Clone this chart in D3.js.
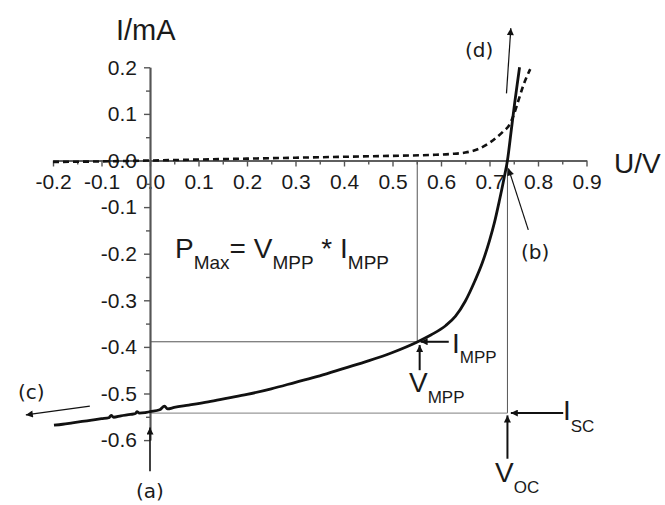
<!DOCTYPE html>
<html>
<head>
<meta charset="utf-8">
<script src="https://cdn.jsdelivr.net/npm/d3@7"></script>
<style>
  html, body { margin: 0; padding: 0; background: #fff; }
  svg { display: block; }
  text { font-family: "Liberation Sans", Arial, sans-serif; fill: #1a1a1a; }
</style>
</head>
<body>
<svg id="chart" width="665" height="505"></svg>
<script>
// ---- data ----
const xMajorTicks = [-0.2, -0.1, 0.0, 0.1, 0.2, 0.3, 0.4, 0.5, 0.6, 0.7, 0.8, 0.9];
const yMajorTicks = [0.2, 0.1, 0.0, -0.1, -0.2, -0.3, -0.4, -0.5, -0.6];
const xMinorTicks = [-0.15, -0.05, 0.05, 0.15, 0.25, 0.35, 0.45, 0.55, 0.65, 0.75, 0.85];
const yMinorTicks = [0.15, 0.05, -0.05, -0.15, -0.25, -0.35, -0.45, -0.55];

// illuminated curve (solid)
const lightU = [-0.198,-0.18,-0.16,-0.14,-0.12,-0.10,-0.085,-0.08,-0.075,-0.06,-0.04,-0.03,-0.027,-0.022,-0.01,0.0,0.02,0.03,0.036,0.05,0.08,0.12,0.16,0.2,0.25,0.3,0.35,0.4,0.45,0.5,0.55,0.58,0.61,0.63,0.65,0.67,0.685,0.70,0.71,0.72,0.73,0.737,0.745,0.752,0.758,0.762];
const lightI = [-0.568,-0.566,-0.563,-0.560,-0.557,-0.554,-0.552,-0.547,-0.551,-0.548,-0.545,-0.543,-0.539,-0.542,-0.541,-0.539,-0.535,-0.527,-0.533,-0.530,-0.525,-0.518,-0.510,-0.502,-0.490,-0.476,-0.462,-0.446,-0.430,-0.412,-0.390,-0.374,-0.354,-0.334,-0.302,-0.258,-0.220,-0.172,-0.134,-0.088,-0.038,0.0,0.066,0.124,0.170,0.200];

// dark curve (dashed)
const darkU = [-0.2,-0.1,0.0,0.1,0.2,0.3,0.4,0.5,0.58,0.62,0.65,0.68,0.70,0.715,0.728,0.74,0.75,0.76,0.77,0.784];
const darkI = [-0.003,-0.002,0.0,0.002,0.004,0.006,0.008,0.010,0.012,0.014,0.017,0.026,0.038,0.050,0.062,0.075,0.098,0.130,0.162,0.196];

// characteristic points
const VMPP = 0.551, IMPP = -0.389, VOC = 0.737, ISC = -0.542;

// ---- drawing ----
const svg = d3.select("#chart");
const x = d3.scaleLinear().domain([-0.2, 0.9]).range([53, 586.5]);
const y = d3.scaleLinear().domain([0.2, -0.6]).range([67.3, 440.1]);
const fmt = d => d.toFixed(1);

const defs = svg.append("defs");
defs.append("marker").attr("id", "ah").attr("viewBox", "0 0 10 10")
  .attr("refX", 10).attr("refY", 5).attr("markerUnits", "userSpaceOnUse")
  .attr("markerWidth", 9).attr("markerHeight", 7).attr("orient", "auto")
  .append("path").attr("d", "M0,0L10,5L0,10z").attr("fill", "#111");

// guide lines
const guide = svg.append("g").attr("fill", "none");
guide.append("line").attr("x1", x(VMPP)).attr("x2", x(VMPP)).attr("y1", y(0)).attr("y2", y(IMPP))
  .attr("stroke", "#555").attr("stroke-width", 1);
guide.append("line").attr("x1", x(0)).attr("x2", x(VMPP)).attr("y1", y(IMPP)).attr("y2", y(IMPP))
  .attr("stroke", "#555").attr("stroke-width", 1);
guide.append("line").attr("x1", x(VOC)).attr("x2", x(VOC)).attr("y1", y(0)).attr("y2", y(ISC))
  .attr("stroke", "#555").attr("stroke-width", 1);
guide.append("line").attr("x1", x(0)).attr("x2", x(VOC)).attr("y1", y(ISC)).attr("y2", y(ISC))
  .attr("stroke", "#999").attr("stroke-width", 1.3);

// axes
const axisColor = "#555";
const gx = svg.append("g").attr("transform", `translate(0,${y(0)})`);
gx.call(d3.axisBottom(x).tickValues(xMajorTicks).tickFormat(fmt).tickSize(6).tickSizeOuter(0).tickPadding(8));
const gxm = svg.append("g").attr("transform", `translate(0,${y(0)})`);
gxm.call(d3.axisBottom(x).tickValues(xMinorTicks).tickFormat("").tickSize(4).tickSizeOuter(0));
const gy = svg.append("g").attr("transform", `translate(${x(0)},0)`);
gy.call(d3.axisLeft(y).tickValues(yMajorTicks).tickFormat(fmt).tickSize(6).tickSizeOuter(0).tickPadding(7));
const gym = svg.append("g").attr("transform", `translate(${x(0)},0)`);
gym.call(d3.axisLeft(y).tickValues(yMinorTicks).tickFormat("").tickSize(4).tickSizeOuter(0));

[gx, gxm, gy, gym].forEach(g => {
  g.selectAll(".domain").attr("stroke", axisColor).attr("stroke-width", 1.7);
  g.selectAll(".tick line").attr("stroke", axisColor).attr("stroke-width", 1.4);
  g.selectAll("text").attr("font-size", 21).attr("fill", "#1a1a1a")
    .style("font-family", '"Liberation Sans", Arial, sans-serif');
});

// curves
const line = d3.line().x(d => x(d[0])).y(d => y(d[1])).curve(d3.curveMonotoneX);
svg.append("path").datum(darkU.map((u, i) => [u, darkI[i]]))
  .attr("d", line).attr("fill", "none").attr("stroke", "#111")
  .attr("stroke-width", 2.6).attr("stroke-dasharray", "6,4");
svg.append("path").datum(lightU.map((u, i) => [u, lightI[i]]))
  .attr("d", line).attr("fill", "none").attr("stroke", "#111")
  .attr("stroke-width", 2.8).attr("stroke-linejoin", "round");

// annotation arrows
function arrow(u1, v1, u2, v2, w) {
  svg.append("line").attr("x1", x(u1)).attr("y1", y(v1)).attr("x2", x(u2)).attr("y2", y(v2))
    .attr("stroke", "#111").attr("stroke-width", w).attr("marker-end", "url(#ah)");
}
arrow(0.616, IMPP, 0.558, IMPP, 2);
arrow(0.556, -0.450, 0.556, -0.396, 2);
arrow(0.852, ISC, 0.744, ISC, 2);
arrow(VOC, -0.640, VOC, -0.547, 2);
arrow(0, -0.667, 0, -0.573, 1.6);
arrow(0.780, -0.149, 0.739, -0.017, 1.2);
arrow(-0.124, -0.527, -0.256, -0.546, 1.2);
arrow(0.735, 0.144, 0.744, 0.284, 1.2);

// axis titles
svg.append("text").attr("x", 116).attr("y", 40).attr("font-size", 29).text("I/mA");
svg.append("text").attr("x", 614).attr("y", 173).attr("font-size", 28).text("U/V");

// letter labels
const lab = (t, px, py, anchor) => svg.append("text").attr("x", px).attr("y", py)
  .attr("font-size", 20).attr("text-anchor", anchor || "start")
  .style("font-family", '"DejaVu Sans", sans-serif').text(t);
lab("(a)", 150, 498, "middle");
lab("(b)", 521, 259);
lab("(c)", 18, 399);
lab("(d)", 465, 57);

// subscripted labels
function subLabel(px, py, main, sub, mainSize, subSize, dy) {
  const t = svg.append("text").attr("x", px).attr("y", py).attr("font-size", mainSize);
  t.append("tspan").text(main);
  t.append("tspan").attr("font-size", subSize).attr("dy", dy).text(sub);
  return t;
}
subLabel(452, 353, "I", "MPP", 28, 17, 10);
subLabel(409, 392, "V", "MPP", 28, 17, 11);
subLabel(563, 420, "I", "SC", 28, 17, 12);
subLabel(495, 482, "V", "OC", 28, 17, 11);

// formula
const f = svg.append("text").attr("x", 175).attr("y", 258).attr("font-size", 28);
f.append("tspan").text("P");
f.append("tspan").attr("font-size", 19).attr("dy", 11).text("Max");
f.append("tspan").attr("dy", -11).text("= V");
f.append("tspan").attr("font-size", 19).attr("dy", 11).text("MPP");
f.append("tspan").attr("dy", -11).text(" * I");
f.append("tspan").attr("font-size", 19).attr("dy", 11).text("MPP");
</script>
</body>
</html>
